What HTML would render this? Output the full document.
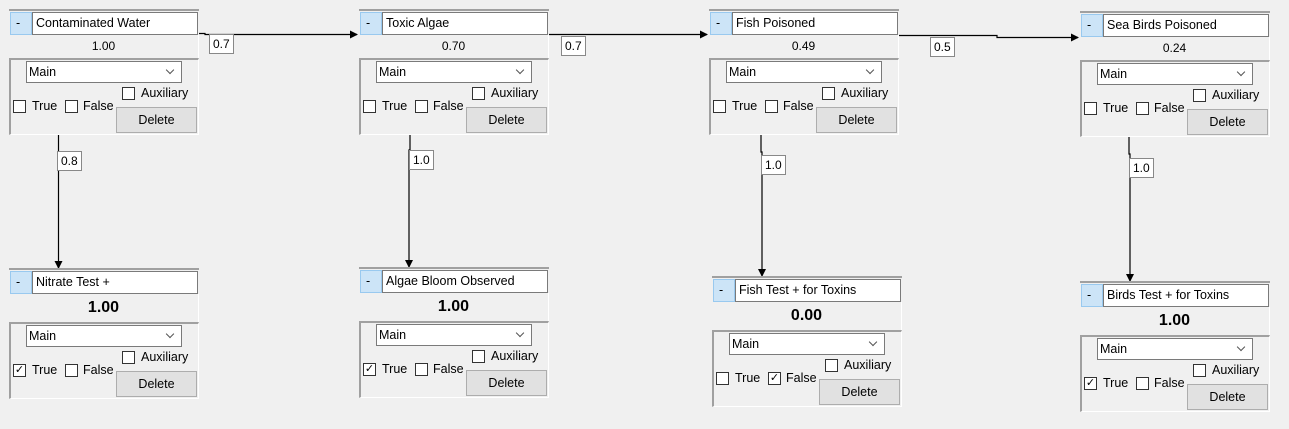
<!DOCTYPE html>
<html><head><meta charset="utf-8"><style>
body{margin:0;width:1289px;height:429px;background:#f0f0f0;position:relative;overflow:hidden;font-family:"Liberation Sans",sans-serif;font-size:12.5px;color:#000}
.n{position:absolute;width:190px;height:123px;background:#f0f0f0;border-top:2px solid #a0a0a0}
.n.b{height:127px}
.n div,.n span{position:absolute}
.mi{left:1px;top:1px;width:20px;height:21px;background:#cce4f7;border:1px solid #99c9ef;line-height:21px;text-indent:5px}
.tb{left:23px;top:1px;width:164px;height:21px;background:#fff;border:1px solid #7a7a7a;line-height:21px;text-indent:3px}
.v{left:0;top:24px;width:189px;height:23px;line-height:23px;text-align:center;background:#f0f0f0;border-right:1px solid #fff;font-size:12px}
.b .v{height:28px;line-height:28px;font-weight:bold;font-size:16px}
.lp{left:0;top:47px;width:187px;height:74px;border-top:2px solid #a0a0a0;border-left:2px solid #a0a0a0;border-right:1px solid #fff;border-bottom:1px solid #fff}
.b .lp{top:52px}
.dd{left:15px;top:1px;width:154px;height:20px;background:#fff;border:1px solid #7a7a7a;line-height:20px;text-indent:2px}
.dd:after{content:"";position:absolute;right:8px;top:5px;width:5px;height:5px;border-right:1px solid #555;border-bottom:1px solid #555;transform:rotate(45deg)}
.cb{width:11px;height:11px;border:1px solid #333;background:#fff;font-size:11px;line-height:11px;text-align:center}
.bt{left:105px;top:47px;width:79px;height:24px;background:#e1e1e1;border:1px solid #adadad;line-height:24px;text-align:center}
.lb{position:absolute;background:#fff;border:1px solid #888;height:18px;line-height:18px;padding:0 3px;font-size:12px}
</style></head><body>
<svg width="1289" height="429" style="position:absolute;left:0;top:0">
<defs><marker id="a" markerWidth="8" markerHeight="8" refX="7" refY="4" orient="auto" markerUnits="userSpaceOnUse"><path d="M0,0 L8,4 L0,8z" fill="#000"/></marker></defs>
<g stroke="#000" stroke-width="1.2" fill="none">
<path d="M199,33.5 H205 V34.5 H357" marker-end="url(#a)"/>
<path d="M549,34.5 H707" marker-end="url(#a)"/>
<path d="M899,35.5 H997 V37.5 H1078" marker-end="url(#a)"/>
<path d="M58.5,135 V268" marker-end="url(#a)"/>
<path d="M410,135 V150 H409 V267" marker-end="url(#a)"/>
<path d="M761,135 V152 H762 V276" marker-end="url(#a)"/>
<path d="M1129,137 V154 H1130 V281" marker-end="url(#a)"/>
</g></svg>
<div class="lb" style="left:209px;top:34px">0.7</div>
<div class="lb" style="left:561px;top:36px">0.7</div>
<div class="lb" style="left:930px;top:37px">0.5</div>
<div class="lb" style="left:57px;top:151px">0.8</div>
<div class="lb" style="left:409px;top:150px">1.0</div>
<div class="lb" style="left:761px;top:155px">1.0</div>
<div class="lb" style="left:1129px;top:158px">1.0</div>

<div class="n" style="left:9px;top:9px"><div class="mi">-</div><div class="tb">Contaminated Water</div><div class="v">1.00</div>
<div class="lp"><div class="dd">Main</div><div class="cb" style="left:111px;top:27px"></div><span style="left:130px;top:26px">Auxiliary</span><div class="cb" style="left:2px;top:40px"></div><span style="left:21px;top:39px">True</span><div class="cb" style="left:54px;top:40px"></div><span style="left:72px;top:39px">False</span><div class="bt">Delete</div></div></div>

<div class="n" style="left:359px;top:9px"><div class="mi">-</div><div class="tb">Toxic Algae</div><div class="v">0.70</div>
<div class="lp"><div class="dd">Main</div><div class="cb" style="left:111px;top:27px"></div><span style="left:130px;top:26px">Auxiliary</span><div class="cb" style="left:2px;top:40px"></div><span style="left:21px;top:39px">True</span><div class="cb" style="left:54px;top:40px"></div><span style="left:72px;top:39px">False</span><div class="bt">Delete</div></div></div>

<div class="n" style="left:709px;top:9px"><div class="mi">-</div><div class="tb">Fish Poisoned</div><div class="v">0.49</div>
<div class="lp"><div class="dd">Main</div><div class="cb" style="left:111px;top:27px"></div><span style="left:130px;top:26px">Auxiliary</span><div class="cb" style="left:2px;top:40px"></div><span style="left:21px;top:39px">True</span><div class="cb" style="left:54px;top:40px"></div><span style="left:72px;top:39px">False</span><div class="bt">Delete</div></div></div>

<div class="n" style="left:1080px;top:11px"><div class="mi">-</div><div class="tb">Sea Birds Poisoned</div><div class="v">0.24</div>
<div class="lp"><div class="dd">Main</div><div class="cb" style="left:111px;top:27px"></div><span style="left:130px;top:26px">Auxiliary</span><div class="cb" style="left:2px;top:40px"></div><span style="left:21px;top:39px">True</span><div class="cb" style="left:54px;top:40px"></div><span style="left:72px;top:39px">False</span><div class="bt">Delete</div></div></div>

<div class="n b" style="left:9px;top:268px"><div class="mi">-</div><div class="tb">Nitrate Test +</div><div class="v">1.00</div>
<div class="lp"><div class="dd">Main</div><div class="cb" style="left:111px;top:27px"></div><span style="left:130px;top:26px">Auxiliary</span><div class="cb" style="left:2px;top:40px">✓</div><span style="left:21px;top:39px">True</span><div class="cb" style="left:54px;top:40px"></div><span style="left:72px;top:39px">False</span><div class="bt">Delete</div></div></div>

<div class="n b" style="left:359px;top:267px"><div class="mi">-</div><div class="tb">Algae Bloom Observed</div><div class="v">1.00</div>
<div class="lp"><div class="dd">Main</div><div class="cb" style="left:111px;top:27px"></div><span style="left:130px;top:26px">Auxiliary</span><div class="cb" style="left:2px;top:40px">✓</div><span style="left:21px;top:39px">True</span><div class="cb" style="left:54px;top:40px"></div><span style="left:72px;top:39px">False</span><div class="bt">Delete</div></div></div>

<div class="n b" style="left:712px;top:276px"><div class="mi">-</div><div class="tb">Fish Test + for Toxins</div><div class="v">0.00</div>
<div class="lp"><div class="dd">Main</div><div class="cb" style="left:111px;top:27px"></div><span style="left:130px;top:26px">Auxiliary</span><div class="cb" style="left:2px;top:40px"></div><span style="left:21px;top:39px">True</span><div class="cb" style="left:54px;top:40px">✓</div><span style="left:72px;top:39px">False</span><div class="bt">Delete</div></div></div>

<div class="n b" style="left:1080px;top:281px"><div class="mi">-</div><div class="tb">Birds Test + for Toxins</div><div class="v">1.00</div>
<div class="lp"><div class="dd">Main</div><div class="cb" style="left:111px;top:27px"></div><span style="left:130px;top:26px">Auxiliary</span><div class="cb" style="left:2px;top:40px">✓</div><span style="left:21px;top:39px">True</span><div class="cb" style="left:54px;top:40px"></div><span style="left:72px;top:39px">False</span><div class="bt">Delete</div></div></div>
</body></html>
